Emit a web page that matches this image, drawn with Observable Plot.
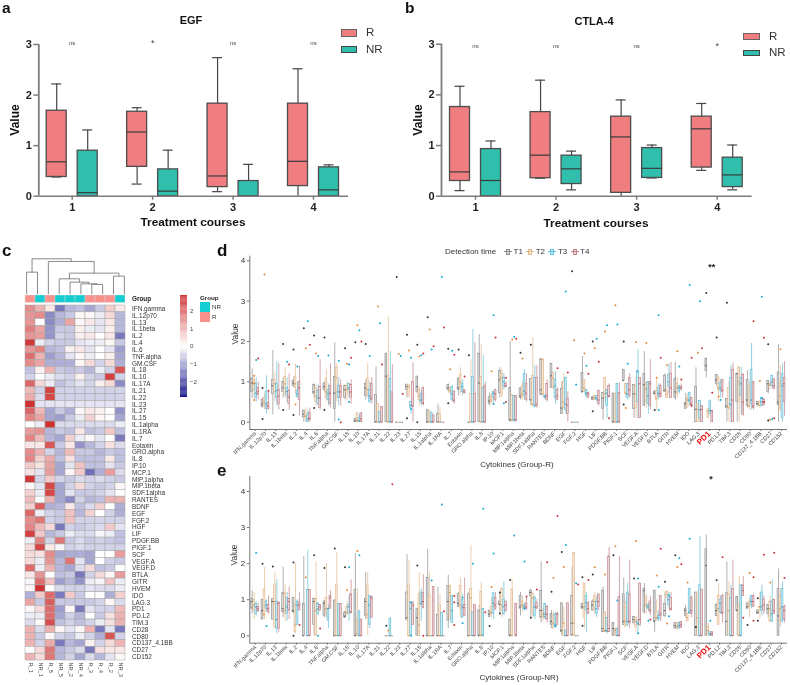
<!DOCTYPE html>
<html><head><meta charset="utf-8">
<script src="https://cdn.jsdelivr.net/npm/d3@7"></script>
<script src="https://cdn.jsdelivr.net/npm/@observablehq/plot@0.6"></script>
<style>
html,body{margin:0;padding:0;background:#fff}
#page{position:relative;width:790px;height:685px;overflow:hidden;font-family:"Liberation Sans",Arial,sans-serif;color:#222;filter:blur(.35px)}
#page svg{position:absolute;background:transparent}
.t{position:absolute;white-space:nowrap;line-height:1}
.sw{position:absolute;box-sizing:border-box}
</style></head><body><div id="page"></div>
<script>
// ---------- Panels a, b: [low, q1, median, q3, high] per course
const courses=[1,2,3,4];
const egfR=[[.38,.38,.68,1.69,2.22],[.24,.58,1.27,1.67,1.75],[.09,.18,.40,1.83,2.74],[0,.20,.69,1.83,2.52]];
const egfNR=[[0,0,.07,.90,1.31],[0,0,.10,.53,.91],[0,0,0,.30,.63],[0,0,.125,.57,.62]];
const egfSig=["ns","*","ns","ns"];
const ctlaR=[[.11,.30,.48,1.76,2.17],[.355,.355,.81,1.66,2.29],[0,.066,1.17,1.57,1.90],[.51,.565,1.33,1.57,1.83]];
const ctlaNR=[[0,0,.31,.93,1.09],[.125,.24,.54,.80,.89],[.36,.36,.55,.95,1.01],[.125,.18,.42,.76,1.01]];
const ctlaSig=["ns","ns","ns","*"];
// ---------- Panel c
const heatCols=["R_1","NR_1","R_5","NR_5","NR_2","NR_4","R_3","R_4","R_2","NR_3"];
const heatGroups=["R","NR","R","NR","NR","NR","R","R","R","NR"];
const cytokines=["IFN.gamma","IL.12p70","IL.13","IL.1beta","IL.2","IL.4","IL.6","TNF.alpha","GM.CSF","IL.18","IL.10","IL.17A","IL.21","IL.22","IL.23","IL.27","IL.15","IL.1alpha","IL.1RA","IL.7","Eotaxin","GRO.alpha","IL.8","IP.10","MCP.1","MIP.1alpha","MIP.1beta","SDF.1alpha","RANTES","BDNF","EGF","FGF.2","HGF","LIF","PDGF.BB","PIGF.1","SCF","VEGF.A","VEGF.D","BTLA","GITR","HVEM","IDO","LAG.3","PD1","PD.L2","TIM.3","CD28","CD80","CD137_4.1BB","CD27","CD152"];
const heatValues=[
[1.5,1,.3,-1.5,-.8,-.7,-1,-.6,.7,.3],[1.4,1.5,-1.3,-.8,-.6,.1,.1,-.2,.5,-.8],[1.4,0,-1.3,-.9,1.2,.1,.3,-.3,.3,-.8],[1.7,1.2,-1.2,-.6,-.6,.2,-.2,-.3,.2,-.8],[1.4,1.3,-1.2,-.5,-.6,.2,.3,0,.3,-1.5],
[2.6,-.2,-.5,-.6,-.6,-.3,-.2,-.2,.1,-.6],[1.4,1.6,-.8,-.7,.2,.3,-.3,0,-.3,-1.1],[1.9,1,-1.1,-.8,-.3,.1,-.2,0,.2,-1],[1.5,1.2,-.9,-.9,-.9,.1,.5,-.5,.5,-.9],[-.7,.2,1,-.6,-.7,-.6,-.8,-.2,-.5,2.2],
[-.5,0,-.2,-.4,-.5,.2,-.5,-.6,2.5,-.5],[2,.5,-.2,-.7,-.5,-.3,-.5,.2,.5,-1.3],[.9,-.5,2.5,-.5,-.5,-.5,-.5,-.5,-.5,-.5],[1.1,-.4,2.4,-.5,-.5,-.5,-.5,-.5,-.5,-.5],[2.7,-.3,-.3,-.3,-.3,-.3,-.3,-.3,-.3,-.3],
[2,.9,-1,-.6,-.9,.1,.3,.2,0,-1.2],[1.6,1.2,-1,-1.1,-.6,-.2,.6,.1,0,-1],[0,-.2,2.7,-.4,-.4,-.4,-.4,-.4,-.4,-.2],[1.3,1.4,-.8,-.6,-.7,.3,-.7,-.6,.7,-.7],[1.6,.9,-.8,-1,.6,-.2,.1,-.3,0,-1.5],
[.3,.3,2.2,-.6,.3,-1.2,-.8,-.5,.4,-.4],[1.5,1,-.5,-.8,.9,-.6,-.6,-.8,-.6,-.7],[1.6,.6,1.1,-.7,.4,-.7,-.7,-.7,.3,-.7],[.7,.4,1.2,-1,-.3,.8,-.7,-.7,-.3,-.6],[.4,-.3,1.3,-1,.1,.7,-1.6,-.9,1.3,-.4],
[2.6,-.5,.7,-.5,-.6,-.4,-.5,-.4,-.5,-.6],[.1,-.3,2.4,-1,-.5,.5,-.5,-.6,-.5,.1],[.6,-.2,2.4,-1,-.3,-.6,-.6,-.5,-.3,0],[.9,0,1,-1,-1.3,-.5,-.8,-.7,1,1],[.6,2.1,-.9,-.8,.3,-.7,-.4,.6,0,-.9],
[2,-.2,-.5,-.6,.8,-.8,.6,0,-.5,-.9],[1.5,1.8,-.5,-.6,.8,-.5,-.5,-.5,-.5,-.5],[1.6,.9,.5,-1.5,-.5,-.6,-.5,-.4,.7,-.3],[2.5,.7,-.8,-.6,-.2,-.4,-.4,-.1,-.2,-.7],[-.2,1.6,-.5,1.8,-.6,-.4,-.6,-.5,-.6,-.7],
[.5,2.4,.3,-.1,-.5,-.4,-.5,-.5,-.5,-.5],[.5,.4,1.5,-1,-.9,-.9,-1,0,0,1.3],[.5,-.2,1.4,-.8,1.8,-.3,-1,0,-.5,-.6],[1.9,-.2,1,-.8,-1,-.4,.5,-.7,-.6,0],[.3,1.4,0,-.7,-.6,-1.5,-.5,.5,.1,1.3],
[-.1,1.9,.8,-1.1,-.8,-1.2,-.2,-.1,.8,-.2],[.1,2.7,0,-.4,-.5,-.5,-.3,-.4,-.4,-.2],[-.9,.7,1.9,-1.5,.7,-.6,0,0,-.9,.6],[1.2,-.6,2.1,-.6,-.6,-.6,-.6,-.5,.1,-.4],[.1,.5,1.9,-1.1,.1,-1.5,-.3,-.5,-.5,.9],
[-.2,-.2,1.9,-1,-.5,-.8,0,-.6,.4,1],[-.4,.1,2.3,-.7,-.5,-.7,-.5,-.2,.4,1],[1,-.4,1,.1,-.3,.1,1,-1.5,-.3,-1.5],[1,-.6,.1,-.5,-.6,-.2,-.5,-.9,2.2,-.5],[1,-.5,1.1,-1.5,-.8,-1,.2,-.5,.5,1],
[0,.5,1.8,-.8,-.6,-.4,-1.5,.4,.3,.3],[1,.5,1.8,-.8,-.5,-1,-.4,-.8,-.3,.1]];
// merge: [a, b, height]; a number >=0 is a leaf column, a number <0 refers to merge -n-1
const dendroMerges=[[0,1,65],[6,7,28],[5,-2,30],[4,-3,35],[3,-4,45],[8,9,53],[-5,-6,62],[2,-7,97],[-1,-8,105]];
// ---------- Panels d, e: per cytokine, per time T1..T4, [low,q1,median,q3,high]
const dStats=[
[[.6,.75,.97,1.08,1.32],[.55,.8,.95,1.05,1.15],[.5,.6,.72,.95,1.1],[.55,.68,.77,.85,1]],
[[.35,.38,.45,.55,.6],[.3,.4,.5,.6,.7],[.2,.33,.45,.75,1.15],[.3,.33,.4,.48,.75]],
[[.18,.7,.9,1.05,1.78],[.5,.75,.95,1.05,1.25],[.4,.6,.78,.95,1.5],[.3,.45,.65,.8,1.45]],
[[.6,.75,.85,1,1.1],[.6,.7,.95,1.12,1.35],[.5,.65,.76,.85,1.1],[.3,.45,.62,.78,1.2]],
[[.85,.9,.97,1.02,1.1],[.7,.85,.95,1.12,1.45],[.6,.62,.7,.78,1],[.15,.55,.85,1,1.38]],
[[0,.12,.2,.28,.3],[0,.1,.15,.22,.35],[0,0,.08,.17,.3],[0,.05,.1,.23,.35]],
[[.6,.7,.75,.92,.95],[.4,.5,.65,.82,.92],[.4,.45,.6,.78,.92],[.3,.35,.6,.87,1.55]],
[[.75,.8,.88,.95,1],[.5,.6,.75,1.08,1.3],[.4,.55,.7,.8,.95],[.35,.45,.72,.9,1.45]],
[[0,.33,.72,1.12,1.97],[.5,.75,1.1,1.35,1.45],[.4,.6,.75,.9,1.1],[.4,.6,.75,.9,1.05]],
[[.55,.6,.8,.9,.92],[.55,.7,.8,.9,1],[.6,.8,.85,.95,.95],[.45,.6,.75,.92,1.05]],
[[0,0,.03,.08,.1],[0,0,.05,.22,.23],[0,0,.03,.1,.2],[0,0,.08,.22,.23]],
[[.55,.65,.85,.95,1.05],[.6,.7,.8,1.08,1.45],[.45,.5,.65,.8,1],[.45,.55,.6,.95,1.1]],
[[0,0,0,.67,1.37],[0,0,0,.46,.46],[0,0,0,.26,.26],[0,0,0,.38,.38]],
[[0,0,1.14,1.7,1.7],[0,0,0,1.15,2.6],[0,0,0,1.08,1.75],[0,0,0,.74,1.42]],
[[0,0,0,0,0],[0,0,0,0,0],[0,0,0,0,0],[0,0,0,0,0]],
[[.6,.8,.88,.93,.93],[.6,.65,.88,.93,.93],[.2,.35,.42,.5,.5],[0,.4,.4,1,1.47]],
[[.7,.75,.88,1.13,1.13],[.4,.55,.65,.8,.88],[.4,.5,.55,.7,.8],[.4,.45,.47,.85,.87]],
[[0,0,0,.3,.3],[0,0,0,.27,.27],[0,0,0,.24,.24],[0,0,0,.17,.17]],
[[0,0,0,.2,.45],[0,0,0,.2,.37],[0,0,0,0,0],[0,0,0,0,0]],
[[.75,.8,.85,.92,.95],[.7,.72,.78,.85,.88],[.5,.55,.7,.87,.9],[.45,.5,.55,.75,.78]],
[[.65,.8,.85,1.08,1.1],[.7,.85,1,1.18,1.35],[.65,.75,.88,.95,1.05],[.7,.72,.75,.8,.8]],
[[0,0,0,0,0],[0,0,0,.7,1.55],[0,0,0,1.12,2.3],[0,0,0,.7,1.97]],
[[0,0,.97,1.7,2.17],[0,0,0,1.12,1.93],[0,0,0,.85,1.65],[0,0,0,.9,1]],
[[.4,.45,.52,.62,.72],[.45,.5,.55,.65,.7],[.45,.6,.72,.75,.75],[.5,.55,.7,.8,.8]],
[[.6,.72,1.05,1.27,1.35],[.6,.7,1.1,1.2,1.3],[.8,.9,1,1.1,1.2],[.85,.87,.9,.95,1]],
[[0,.05,.05,.85,2],[0,.05,.05,.68,.68],[0,.05,.05,.65,.65],[0,.05,.05,.65,.65]],
[[.55,.6,.65,.84,.84],[.55,.6,.7,.9,1],[.55,.65,.77,1.2,1.3],[.5,.55,.72,.95,1.2]],
[[.4,.55,.55,1.07,1.07],[.4,.42,.45,1.15,2.1],[.35,.4,.4,1.1,1.4],[.35,.4,.45,1.1,1.4]],
[[.65,.68,.8,1.56,1.56],[.65,.7,.7,1.56,1.56],[.55,.6,.63,.65,.7],[.5,.55,.65,.95,1.05]],
[[.85,.85,1.15,1.44,1.44],[.8,.85,1.1,1.22,1.25],[.45,.6,.9,1.05,1.25],[.55,.55,.65,.8,.85]],
[[.2,.2,.35,.83,1],[.3,.35,.5,1,1.2],[.2,.3,.45,1.1,1.12],[0,.2,.42,.58,.75]],
[[0,0,0,0,0],[0,0,0,0,0],[0,0,0,0,0],[0,0,0,0,0]],
[[.75,.75,.75,1.22,1.63],[.75,.75,.85,1.05,1.05],[.6,.65,.72,.8,.8],[.6,.6,.7,.72,.75]],
[[.55,.55,.6,.62,.62],[.55,.55,.6,.65,.65],[.5,.55,.6,.65,.65],[.4,.45,.55,.78,.78]],
[[.05,.33,.6,.72,.72],[.5,.6,.7,1.1,1.1],[.1,.4,.72,.8,.8],[.6,.62,.65,.9,.95]],
[[0,0,0,.71,.71],[0,0,0,.71,.71],[0,0,0,.95,.95],[0,0,0,.72,.97]],
[[1.03,1.03,1.03,1.3,1.3],[.6,.72,.72,.95,.95],[.55,.6,.7,.95,.95],[.6,.65,.8,1.1,1.2]],
[[.1,.33,.7,.92,.92],[.1,.35,.7,.9,1.15],[.1,.5,1.25,1.27,1.8],[.1,.1,.95,1.1,1.1]],
[[.4,.4,.93,1.2,1.75],[.35,.5,.82,.98,.98],[.2,.45,.65,1,1],[.3,.4,.95,1,1.55]],
[[.65,.7,.72,.75,.78],[.3,.55,.6,.78,1.08],[.55,.65,.72,.85,.95],[.6,.62,.7,.9,.95]],
[[.75,.75,.8,1.15,1.2],[.6,.6,.7,.75,.9],[.7,.9,1,1.17,1.45],[.6,.6,.85,1.2,1.48]],
[[.55,.6,.75,1.08,1.48],[.6,.7,.85,.95,1.1],[.7,.75,.85,.9,.9],[.8,.8,.85,.88,.95]],
[[.33,.33,.45,.48,.72],[.35,.38,.55,.6,.7],[.4,.5,.55,.73,.73],[.4,.42,.45,.6,.6]],
[[0,0,.32,.88,1.35],[0,0,.32,.45,.45],[0,.1,.3,.53,.55],[0,0,.32,.4,.4]],
[[1.1,1.27,1.4,1.57,1.6],[.1,.1,.27,.32,.33],[.15,.2,.3,.52,.55],[0,0,.28,.28,.28]],
[[.9,.95,1.05,1.17,1.17],[.5,.8,.85,1.1,1.15],[.6,.78,.85,.98,1.05],[.6,.75,.8,1.05,1.05]],
[[0,.35,.4,.58,.58],[0,.35,.35,.85,1],[0,.4,.45,1.1,1.4],[0,0,.55,1.3,1.47]],
[[0,.5,1.2,1.2,1.2],[0,.5,1,1.36,1.36],[.2,.65,.95,1.1,1.36],[.15,.18,.5,1.18,1.2]],
[[.35,.4,.55,1.05,1.28],[.3,.38,.4,.9,1],[.3,.45,.55,1.3,1.95],[.3,.35,.4,1,1]],
[[.38,.42,.46,.5,.52],[.35,.4,.42,.5,.55],[.38,.4,.5,.6,.62],[.4,.42,.5,.55,.6]],
[[.7,.75,.95,1.02,1.03],[.8,.9,.92,.95,1],[.85,.9,1,1.15,1.15],[.8,.82,.9,1.05,1.1]],
[[0,.42,.5,1.23,1.92],[.3,.3,.65,.95,1.4],[0,.1,.9,1.2,1.45],[.15,.5,.95,1.1,1.5]]];
// outliers: [cytokine index, time 1..4, value]
const dOutliers=[[0,3,1.54],[0,4,1.58],[0,2,1.15],[0,2,.55],[0,2,.98],[1,1,.85],[1,1,.08],[1,2,3.66],[1,4,.78],[3,1,1.94],[3,1,.3],[3,3,1.5],[3,4,1.43],[4,1,1.8],[4,1,.18],[4,2,.44],[4,3,1.38],[5,1,2.33],[5,2,1.83],[5,3,2.5],[5,4,1.92],[6,1,2.15],[6,1,.35],[6,2,1.7],[6,3,1.64],[7,1,2.1],[7,1,.3],[7,3,1.65],[8,3,1.52],[8,3,.07],[8,4,0],[9,1,1.83],[9,2,1.45],[9,3,1.43],[9,3,.5],[9,4,1.6],[10,1,1.98],[10,2,2.4],[10,3,2.28],[10,4,2],[11,1,1.94],[11,3,1.64],[12,2,2.87],[12,3,2.45],[12,4,1.43],[14,1,3.6],[14,2,1.69],[14,3,1.64],[14,4,.7],[15,1,2.17],[15,1,.1],[15,2,1.78],[15,3,1.6],[15,3,.33],[16,1,1.92],[16,1,0],[16,2,1.63],[16,3,1.66],[16,4,1.7],[17,1,2.6],[17,2,2.3],[17,3,1.8],[17,4,1.88],[18,3,3.6],[18,4,2.35],[19,1,1.82],[19,1,.47],[19,2,1.31],[19,3,1.77],[19,4,1.67],[20,1,1.8],[20,4,1.13],[21,1,1.66],[23,2,1.26],[23,3,2.65],[23,4,2.1],[23,3,.45],[24,3,.47],[24,4,1.1],[24,4,.5],
[25,2,2.05],[25,3,2.12],[25,4,2.07],[26,1,1.72],[26,2,1.58],[27,1,1.92],[29,4,1.34],[30,3,3.24],[30,4,1.23],[31,1,3.74],[31,2,2.03],[31,3,.93],[32,2,1.7],[32,3,1.4],[32,4,1.2],[33,1,2],[33,1,.27],[33,2,1.83],[33,3,2.07],[33,4,1.5],[34,2,2.25],[34,3,2.4],[34,4,.1],[35,2,2.9],[35,3,2.42],[36,1,2],[36,1,.44],[36,2,.35],[36,3,1.45],[37,2,1.99],[38,2,1.96],[39,1,.3],[39,2,1.1],[39,3,2.65],[39,3,.3],[39,4,1.6],[40,2,1.41],[41,2,1.76],[41,3,1.38],[41,4,1.06],[42,3,3.4],[42,4,1.6],[42,4,.41],[43,2,1.72],[43,3,3],[43,4,1.83],[44,1,3.2],[44,4,.73],[45,1,2.1],[45,2,.64],[45,3,.55],[46,1,2.96],[48,4,2.5],[49,2,1.02],[49,3,3.11],[49,3,.6],[49,4,2.09],[49,4,.5],[50,1,1.93],[50,1,.04],[50,2,.06],[50,3,.08],[50,4,.1],[51,2,1.81]];
const eStats=[
[[.6,.75,.95,1.02,1.25],[.45,.7,.85,1,1.2],[.55,.6,.8,.88,.95],[.65,.68,.75,.8,.9]],
[[.45,.45,.7,1,1],[.45,.55,.6,1.28,1.9],[.65,.75,.85,.95,1],[.6,.65,.75,.85,1.1]],
[[.45,.45,.95,1.02,1.02],[.2,.25,.95,1.42,1.75],[.05,.2,.45,.95,1.55],[.1,.2,.9,.92,.95]],
[[.5,.65,.75,1.18,1.9],[.4,.6,.7,1.18,1.4],[.4,.6,.8,1.05,1.2],[.45,.7,.95,1.02,1.35]],
[[.6,.65,.7,1.05,1.05],[.05,.1,.3,.85,2],[.3,.3,.85,.95,1],[.7,.7,.85,.92,1.2]],
[[0,0,0,.88,2.2],null,[0,0,0,1.27,2.37],[0,0,0,1.27,1.27]],
[[0,.3,.95,1.03,1.03],[0,0,.7,1.02,2.05],[.55,.6,.75,.9,.9],[.7,.7,.8,.85,.85]],
[[.5,.55,.9,.95,.97],[.5,.6,.75,1.05,2],[.2,.42,.75,.75,.85],[.75,.75,1.05,1.1,1.25]],
[[0,0,0,.98,.98],[0,0,0,1.42,2.3],[0,0,0,.88,.88],[0,0,0,.88,.88]],
[[.5,.5,.55,.65,.68],[.55,.6,.65,.8,.95],[.4,.6,.8,.85,1.1],[.6,.65,.65,1.15,1.55]],
[[0,0,0,1.27,2.27],[0,0,.05,.47,1.3],[0,0,0,.68,.68],[0,0,0,.45,.45]],
[[.45,.55,.95,1.02,1.75],[0,.5,.6,1.38,1.75],[.2,.3,.85,1.1,1.1],[.5,.5,1.05,1.08,1.1]],
[null,null,null,null],
[[0,0,0,0,0],[0,0,0,0,0],[0,0,0,.47,.5],[0,0,0,0,0]],
[null,null,null,null],
[[.4,.45,.5,1.2,2.25],[0,0,0,1.4,2.1],[0,0,.75,.92,.92],[.3,.3,.85,.9,.95]],
[[0,0,.5,.75,.75],[0,0,.3,1.15,1.75],[.4,.85,.9,1.2,1.3],[.75,.78,.95,1.18,1.7]],
[[0,0,0,1.6,2.4],[0,0,0,1.1,1.75],[0,0,0,0,0],[0,0,0,1.35,1.35]],
[[0,0,0,.58,1.35],[0,0,0,.85,1.15],[0,0,0,.63,.65],[0,0,0,0,0]],
[[.2,.42,.95,1.38,1.68],[.4,.5,1.2,1.35,1.42],[.35,.35,.7,1.1,1.12],null],
[[.8,.8,.9,1.15,1.2],[.5,.75,.85,1.38,1.6],[.5,.5,.8,1,1.15],[.55,.55,.78,.85,1.6]],
[[0,0,0,1.15,1.2],[0,0,1.05,1.3,2.5],[0,0,0,.65,.65],[0,0,0,.85,.85]],
[[0,0,0,.7,.85],[0,0,0,1.22,1.48],[0,0,0,.75,.75],null],
[[.5,.52,.6,.7,.7],[.5,.6,.65,.8,1.05],[.45,.6,.9,1.18,1.2],[.7,.75,.85,1.05,1.2]],
[[.6,.85,.88,.95,1.2],[.5,.7,.85,1.3,1.35],[.55,.6,.8,1,1.5],[.65,.7,.85,.95,.95]],
[[0,0,0,.45,.45],[0,0,0,1.28,1.55],null,[0,0,0,.88,.9]],
[[.55,.75,.8,1.1,1.2],[.65,.8,.85,.95,1.1],[.7,.75,.8,.85,.9],[.7,.75,.8,.9,1.05]],
[[.5,1.1,1.2,1.25,1.3],[.5,.6,1.05,1.15,1.2],[.45,.55,.8,1.05,1.1],[.75,.75,.8,.9,1]],
[[.35,.5,.7,1.25,2.05],[.4,.5,.6,.7,.75],[.45,.5,.6,.88,.9],[.35,.45,.6,.8,.85]],
[[.2,.3,.4,.6,.7],[.2,.2,.35,.55,.65],[.2,.25,.3,.6,.65],[.3,.3,.6,.6,.65]],
[[0,.1,.15,.9,.9],[0,0,.35,.35,.8],[0,0,0,.15,.15],[0,0,0,.9,.9]],
[[0,0,.35,1.1,1.9],[0,0,.35,2.3,2.3],[0,0,0,0,0],[0,0,0,0,0]],
[[.75,.75,.8,.88,.9],[.2,.5,.8,1.45,1.45],[.1,.7,.92,1.1,1.2],[.6,.6,.75,.9,.95]],
[[.7,.7,.85,.95,1],[.6,.7,.95,1.1,1.2],[.5,.6,.75,.95,1.1],[.7,.8,.95,1.15,1.15]],
[[.1,.1,.2,1.25,1.35],[.1,.1,.15,.65,.65],[.05,.1,.15,.5,.5],[.1,.1,.2,2.2,2.45]],
[[0,0,.2,.35,.35],[0,0,.15,.2,.2],[0,0,0,.2,.2],[0,0,0,1.08,2.2]],
[[.3,.3,.4,1.15,1.6],[.25,.25,.4,.9,.95],[.25,.3,.4,1.2,1.45],[.2,.35,.4,1.15,2.1]],
[[.3,.35,.45,.52,.52],[.1,.25,.4,.5,.55],[.05,.3,.35,.4,.45],[.25,.3,.45,1.45,1.45]],
[[.6,.65,1.25,1.3,1.45],[.6,.8,.85,1.05,1.15],[.7,.75,.8,.85,.9],[.55,.65,.72,.95,1.1]],
[[.1,.4,.4,1.25,1.25],[.4,.45,.5,.65,1],[.4,.45,.5,.55,.7],[.4,.55,.6,1.1,1.1]],
[[.5,.55,.7,.88,1.2],[1.05,1.05,1.15,1.22,1.25],[.75,.85,1,1.1,1.2],[.7,.7,.75,1.05,1.2]],
[[.2,.2,.28,.35,.35],[.15,.2,.25,.35,.35],[.2,.2,.28,.35,.35],[.2,.22,.3,.38,.4]],
[[.5,.55,.7,.75,.85],[.4,.4,.5,.6,.6],[.6,.62,.65,1.3,1.3],[.5,.6,.7,1.05,1.1]],
[[0,0,.25,1.2,1.2],[0,0,.5,1.2,1.2],[0,0,0,1.4,2.75],[0,0,0,1.28,1.28]],
[[0,0,1.95,2.4,2.8],[0,.05,.15,.25,.35],[0,0,.05,.1,.12],[0,0,.05,.1,.1]],
[[.55,.55,.7,.85,.9],[.3,.3,.75,1.1,1.45],[.6,.65,.9,1,1.1],[.35,.6,.65,1.1,1.15]],
[[0,0,.4,1.18,2.05],[0,.02,.7,1.15,1.5],[0,0,0,1.05,1.4],[0,0,0,1.3,2.1]],
[[0,.7,.7,1.08,1.08],[0,0,0,.85,1.65],[0,0,0,1.4,1.4],[1.1,1.1,1.25,1.4,1.65]],
[[.75,.75,.8,.9,.9],[.5,.8,.85,.95,1.05],[.75,.85,.95,1.1,1.1],[.8,.8,.95,1.1,1.15]],
[[.6,.6,.65,.7,.7],[.45,.7,.8,.8,1.2],[.55,.7,.8,1.2,1.4],[.6,.7,.85,1,1.1]],
[[.5,.6,.75,.85,.85],[.35,.4,.75,.95,1.1],[.35,.4,.6,.95,1.55],[.6,.6,.7,1,1]],
[[0,0,.55,1.3,1.85],[.25,.4,.75,1.1,1.3],[.35,.4,.8,1.3,1.5],[.35,.45,.7,.8,.85]]];
const eOutliers=[[0,3,2.3],[1,1,2],[1,3,.27],[2,1,1.92],[4,1,2.03],[4,1,0],[4,4,.3],[5,2,1.62],[6,1,2.23],[6,3,0],[6,4,.2],[7,1,1.88],[8,1,2.42],[9,1,1.9],[9,2,1.27],[9,3,1.9],[10,2,2.35],[10,3,2.23],[13,1,.28],[13,2,.15],[13,4,4.2],[15,3,.93],[15,3,0],[16,1,1.95],[16,4,0],[17,3,1.53],[18,3,3.64],[18,4,.68],[19,4,.93],[19,4,.3],[19,4,1.1],[20,3,1.06],[20,3,.35],[21,3,2],[22,3,3.52],[22,4,.65],[23,1,.27],[23,2,1.35],[23,3,2.28],[24,1,1.2],[24,1,.62],
[25,1,1.55],[25,3,2.78],[26,3,2.06],[26,3,.75],[26,4,1.09],[27,1,.5],[27,4,1.28],[28,4,2.04],[29,1,1.22],[29,2,1.6],[29,3,.27],[29,4,3.32],[30,1,2.32],[30,2,1.91],[30,3,2.52],[31,3,1.46],[31,4,1.42],[32,1,1.62],[32,1,.28],[32,4,1.55],[33,1,1.7],[33,2,1.9],[34,2,1.7],[35,1,2.23],[35,2,2.48],[35,3,.98],[37,1,1.59],[37,2,2.63],[37,3,1.59],[37,3,.07],[38,3,.42],[38,4,.45],[39,2,1.67],[39,3,1.36],[39,4,2.41],[40,1,1.5],[40,2,.34],[40,3,1.12],[40,3,.54],[41,1,2.23],[41,2,1.91],[41,3,2.15],[41,4,1.98],[42,2,1.48],[42,3,2.69],[43,1,.24],[44,3,.42],[45,1,1.54],[45,4,2.18],[47,4,.5],[48,1,.3],[48,2,1.74],[48,4,1.62],[48,4,.42],[49,1,1.04],[49,1,.42],[49,4,2.25],[50,2,1.48],[50,4,2.3],[51,4,1.6]];
const times=["T1","T2","T3","T4"];
const timeStroke=["#8f8f8f","#E5B98C","#62BFD9","#C08088"];
const timeMedian=["#333333","#C9812F","#1B86A8","#A83A44"];
const timeDot=["#333333","#E88B3A","#19A9D9","#C8343C"];

// ---------- helpers
const page=document.getElementById("page");
const FONT='"Liberation Sans",Arial,sans-serif';
const intFmt=d=>d<0?"\u2212"+(-d):String(d);
function place(svg,left,top){svg.style.left=left+"px";svg.style.top=top+"px";page.appendChild(svg);}
function txt(x,y,s,o={}){const e=document.createElement("div");e.className="t";e.textContent=s;
  const a=o.anchor==="start"?"0":o.anchor==="end"?"-100%":"-50%";
  e.style.cssText+=`left:${x}px;top:${y}px;font-size:${o.size||8}px;font-weight:${o.bold?700:400};color:${o.color||"#222"};transform:translate(${a},-50%)${o.rotate?` rotate(${o.rotate}deg)`:""};`;
  page.appendChild(e);}
function swatch(x,y,w,h,bg,border){const e=document.createElement("div");e.className="sw";
  e.style.cssText+=`left:${x}px;top:${y}px;width:${w}px;height:${h}px;background:${bg};border:${border||"none"};`;page.appendChild(e);}

// ---------- panels a, b
function boxPanel(left,rStats,nrStats,sig,sigDy,x0,x1,xLeft,xRight,y3){
  const unit=(x1-x0)/3, off=15.5/unit, half=10/unit, cap=5/unit;
  const rows=[];
  courses.forEach((c,i)=>{rows.push({c,g:"R",pos:c-off,s:rStats[i]});rows.push({c,g:"NR",pos:c+off,s:nrStats[i]});});
  const top=30, y0=195.7, W=395, H=200;
  const plot=Plot.plot({width:W,height:H,marginLeft:xLeft-left,marginRight:W-(xRight-left),marginTop:y3-top,marginBottom:top+H-y0,
    style:{fontFamily:FONT,overflow:"visible",background:"transparent"},
    x:{domain:[1-(x0-xLeft)/unit,4+(xRight-x1)/unit],axis:null},
    y:{domain:[0,3],axis:null},
    color:{domain:["R","NR"],range:["#F07D80","#2FBFAC"]},
    marks:[
      Plot.ruleX(rows,{x:"pos",y1:d=>d.s[0],y2:d=>d.s[4],stroke:"#454545",strokeWidth:1.2}),
      Plot.ruleY(rows,{x1:d=>d.pos-cap,x2:d=>d.pos+cap,y:d=>d.s[4],stroke:"#454545",strokeWidth:1.2}),
      Plot.ruleY(rows.filter(d=>d.s[0]>0),{x1:d=>d.pos-cap,x2:d=>d.pos+cap,y:d=>d.s[0],stroke:"#454545",strokeWidth:1.2}),
      Plot.rect(rows,{x1:d=>d.pos-half,x2:d=>d.pos+half,y1:d=>d.s[1],y2:d=>d.s[3],fill:"g",stroke:"#4d4d4d",strokeWidth:1.3}),
      Plot.ruleY(rows,{x1:d=>d.pos-half,x2:d=>d.pos+half,y:d=>d.s[2],stroke:"#3a3a3a",strokeWidth:1.2}),
      Plot.axisY({ticks:[0,1,2,3],tickFormat:intFmt,tickSize:5,stroke:"#7d7d7d",strokeWidth:1.5,fontSize:11,fontWeight:700,fill:"#222",tickPadding:2,label:null}),
      Plot.axisX({ticks:courses,tickSize:4,stroke:"#7d7d7d",strokeWidth:1.5,fontSize:11,fontWeight:700,fill:"#222",tickPadding:3,tickFormat:intFmt,label:null}),
      Plot.ruleX([1-(x0-xLeft)/unit],{stroke:"#7d7d7d",strokeWidth:1.8}),
      Plot.ruleY([0],{stroke:"#7d7d7d",strokeWidth:1.5}),
      Plot.text(courses.map((c,i)=>({c,t:sig[i]})),{x:"c",y:()=>3,text:"t",fontSize:d=>d.t==="*"?9:6,dy:sigDy,fill:"#444"})
    ]});
  place(plot,left,top);
}
boxPanel(0,egfR,egfNR,egfSig,-1.3,71.7,313,38.3,348,44);
boxPanel(395,ctlaR,ctlaNR,ctlaSig,2.3,475,716.7,441,751.7,43.7);
txt(2,8,"a",{anchor:"start",size:15.5,bold:true,color:"#111"});
txt(405,8,"b",{anchor:"start",size:15.5,bold:true,color:"#111"});
txt(191,20,"EGF",{size:11,bold:true,color:"#111"});
txt(594,21,"CTLA-4",{size:11,bold:true,color:"#111"});
txt(15,120,"Value",{size:12,bold:true,rotate:-90,color:"#111"});
txt(418,120,"Value",{size:12,bold:true,rotate:-90,color:"#111"});
txt(193,223,"Treatment courses",{size:11.8,bold:true,color:"#111"});
txt(596,224,"Treatment courses",{size:11.8,bold:true,color:"#111"});
swatch(341,29,16,7.5,"#F07D80","1.3px solid #666");swatch(341,45.5,16,7.5,"#2FBFAC","1.3px solid #444");
txt(366,33,"R",{anchor:"start",size:11.5,color:"#333"});txt(366,49.5,"NR",{anchor:"start",size:11.5,color:"#333"});
swatch(743.3,33,16.5,6.5,"#F07D80","1.3px solid #666");swatch(743.3,49.5,16.5,6.5,"#2FBFAC","1.3px solid #444");
txt(769,36.5,"R",{anchor:"start",size:11.5,color:"#333"});txt(769,52.5,"NR",{anchor:"start",size:11.5,color:"#333"});

// ---------- panel c
const heatColor={type:"linear",domain:[-2.85,0,2.85],range:["#000080","#ffffff","#CD2626"]};
const groupColor={domain:["NR","R"],range:["#14CDD0","#F8918B"]};
const heatL=20.7,heatR=129.3,heatW=175;
const cells=[];heatValues.forEach((r,i)=>r.forEach((v,j)=>cells.push({row:cytokines[i],col:heatCols[j],v})));
place(Plot.plot({width:heatW,height:375,marginLeft:heatL,marginRight:heatW-heatR,marginTop:0,marginBottom:20,
  style:{fontFamily:FONT,overflow:"visible",background:"transparent"},
  x:{domain:heatCols,padding:0,axis:null},y:{domain:cytokines,padding:0,axis:null},color:heatColor,
  marks:[
    Plot.cell(cells,{x:"col",y:"row",fill:"v",stroke:"#a6a6a6",strokeWidth:.5}),
    Plot.axisY({anchor:"right",tickSize:0,tickPadding:2.2,fontSize:6.4,fill:"#333",label:null}),
    Plot.axisX({anchor:"bottom",tickSize:0,tickPadding:2,tickRotate:90,fontSize:5.6,fill:"#444",label:null})
  ]}),0,305);
place(Plot.plot({width:heatW,height:8,marginLeft:heatL,marginRight:heatW-heatR,marginTop:0,marginBottom:.6,
  style:{fontFamily:FONT,background:"transparent"},
  x:{domain:heatCols,padding:0,axis:null},color:groupColor,
  marks:[Plot.cell(heatCols.map((c,i)=>({c,g:heatGroups[i]})),{x:"c",fill:"g",stroke:"#ddd",strokeWidth:.4})]}),0,295.2);
txt(132,299,"Group",{anchor:"start",size:6.4,bold:true,color:"#222"});
// dendrogram
(function(){
  const nodes=[],paths=[];
  const pos=n=>n>=0?{x:n,h:0}:nodes[-n-1];
  dendroMerges.forEach(([a,b,h],k)=>{const A=pos(a),B=pos(b);nodes.push({x:(A.x+B.x)/2,h});
    paths.push({k,x:A.x,h:A.h},{k,x:A.x,h},{k,x:B.x,h},{k,x:B.x,h:B.h});});
  place(Plot.plot({width:heatW,height:48,marginLeft:heatL,marginRight:heatW-heatR,marginTop:8.3,marginBottom:4.7,
    style:{fontFamily:FONT,background:"transparent"},
    x:{domain:[-.5,9.5],axis:null},y:{domain:[0,105],axis:null},
    marks:[Plot.line(paths,{x:"x",y:"h",z:"k",stroke:"#7d7d7d",strokeWidth:.9,curve:"linear"})]}),0,250);
})();
// colour bar
(function(){
  const levels=d3.range(-2.85,2.85,.05);
  place(Plot.plot({width:24,height:106,marginLeft:4,marginRight:13,marginTop:1,marginBottom:3,
    style:{fontFamily:FONT,background:"transparent",overflow:"visible"},
    x:{domain:[0,1],axis:null},y:{domain:[-2.85,2.85],axis:null},color:heatColor,
    marks:[Plot.rect(levels,{x1:()=>0,x2:()=>1,y1:d=>d,y2:d=>d+.051,fill:d=>d+.025}),
      Plot.axisY({anchor:"right",ticks:[-2,-1,0,1,2],tickFormat:intFmt,tickSize:0,tickPadding:2.5,fontSize:6.2,fill:"#444",label:null})]}),176.3,294);
})();
txt(200,297.7,"Group",{anchor:"start",size:6.2,bold:true,color:"#222"});
swatch(200,301.7,10,10,"#14CDD0");swatch(200,311.7,10,10,"#F8918B");
txt(212,306.7,"NR",{anchor:"start",size:6.2,color:"#333"});txt(212,316.7,"R",{anchor:"start",size:6.2,color:"#333"});

// ---------- panels d, e
function cytoPanel(stats,outliers,top,H,axisTop,y0,y4,axisBottom,ticksY){
  const L=225,W=565,xL=249.3,xR=787,x0=254.7,step=10.32,pxDodge=2/step;
  const unitY=(y0-y4)/ticksY[ticksY.length-1];
  const boxes=[];
  stats.forEach((r,i)=>r.forEach((s,t)=>{if(s)boxes.push({pos:i+(t-1.5)*pxDodge,t:times[t],s});}));
  const dots=outliers.map(([i,t,v])=>({pos:i+(t-1-1.5)*pxDodge,t:times[t-1],v}));
  const half=.9/step;
  const idx=d3.range(cytokines.length);
  const PD=cytokines.indexOf("PD1");
  place(Plot.plot({width:W,height:H,marginLeft:xL-L,marginRight:L+W-xR,marginTop:axisTop-top,marginBottom:top+H-axisBottom,
    style:{fontFamily:FONT,overflow:"visible",background:"transparent"},
    x:{domain:[(xL-x0)/step,(xR-x0)/step],axis:null},
    y:{domain:[(y0-axisBottom)/unitY,(y0-axisTop)/unitY],axis:null},
    color:{domain:times,range:timeStroke},
    marks:[
      Plot.ruleX(boxes,{x:"pos",y1:d=>d.s[0],y2:d=>d.s[4],stroke:"t",strokeWidth:.7}),
      Plot.rect(boxes,{x1:d=>d.pos-half,x2:d=>d.pos+half,y1:d=>d.s[1],y2:d=>d.s[3],fill:"#fff",stroke:"t",strokeWidth:.65}),
      Plot.rect(boxes,{x1:d=>d.pos-half,x2:d=>d.pos+half,y1:d=>d.s[1],y2:d=>d.s[3],fill:"t",fillOpacity:.3}),
      Plot.ruleY(boxes,{x1:d=>d.pos-half,x2:d=>d.pos+half,y:d=>d.s[2],stroke:d=>timeMedian[times.indexOf(d.t)],strokeWidth:.7}),
      Plot.dot(dots,{x:"pos",y:"v",r:1,fill:d=>timeDot[times.indexOf(d.t)],stroke:"none"}),
      Plot.axisY({ticks:ticksY,tickFormat:intFmt,tickSize:2.5,stroke:"#777",fontSize:8,fill:"#333",tickPadding:2,label:null}),
      Plot.axisX({ticks:idx.filter(i=>i!==PD),tickFormat:i=>cytokines[i],tickSize:2,tickPadding:1,tickRotate:-45,fontSize:5.6,fill:"#444",stroke:"#777",label:null}),
      Plot.axisX({ticks:[PD],tickFormat:i=>cytokines[i],tickSize:2,tickPadding:1,tickRotate:-45,fontSize:8,fontWeight:700,fill:"#EE1111",stroke:"#777",label:null}),
      Plot.ruleY([(y0-axisBottom)/unitY],{stroke:"#777",strokeWidth:1}),
      Plot.ruleX([(xL-x0)/step],{stroke:"#777",strokeWidth:1})
    ]}),L,top);
}
cytoPanel(dStats,dOutliers,250,220,255.7,421.7,260.3,429,[0,1,2,3,4]);
cytoPanel(eStats,eOutliers,470,215,476,635.3,491,642.7,[0,1,2,3,4]);
txt(217,250,"d",{anchor:"start",size:17,bold:true,color:"#111"});
txt(217,470,"e",{anchor:"start",size:17,bold:true,color:"#111"});
txt(2,250,"c",{anchor:"start",size:17,bold:true,color:"#111"});
txt(235,334,"Value",{size:8.5,rotate:-90,color:"#333"});
txt(233.7,555,"Value",{size:8.5,rotate:-90,color:"#333"});
txt(517,465,"Cytokines (Group-R)",{size:8,color:"#333"});
txt(519,678,"Cytokines (Group-NR)",{size:8,color:"#333"});
txt(711.7,267,"**",{size:9,bold:true,color:"#222"});
txt(711,479,"*",{size:9,bold:true,color:"#222"});
txt(445,251.7,"Detection time",{anchor:"start",size:8,color:"#333"});
times.forEach((t,i)=>{const x=508+22.2*i;
  swatch(x-4,251.4,8,.8,timeStroke[i]);
  swatch(x-2,248.5,4,6.5,d3.color(timeStroke[i]).copy({opacity:.3})+"",".7px solid "+timeStroke[i]);
  txt(x+5.5,251.7,t,{anchor:"start",size:8,color:"#333"});});
</script></body></html>
